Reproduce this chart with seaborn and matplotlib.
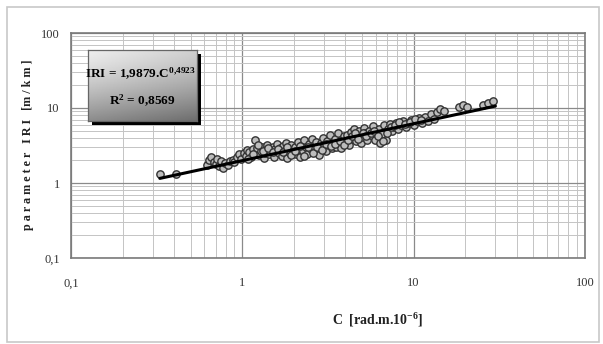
import numpy as np
import pandas as pd
import matplotlib
matplotlib.use("Agg")
import matplotlib.pyplot as plt
from matplotlib.patches import Rectangle
from matplotlib.ticker import FixedLocator, FixedFormatter, LogLocator, NullFormatter
import seaborn as sns

# ---- data ----
c_values = [0.33, 0.41,
    0.62, 0.64, 0.66, 0.68, 0.70, 0.71, 0.73, 0.75, 0.77, 0.79, 0.82, 0.85, 0.88, 0.90, 0.93, 0.96, 0.98,
    1.02, 1.05, 1.07, 1.10, 1.12, 1.15, 1.18, 1.20, 1.22, 1.25, 1.28, 1.30, 1.33, 1.35, 1.38, 1.40, 1.43,
    1.46, 1.50, 1.53, 1.56, 1.60, 1.63, 1.66, 1.70, 1.73, 1.76, 1.80, 1.83, 1.86, 1.90, 1.93, 1.97,
    2.02, 2.06, 2.10, 2.14, 2.18, 2.22, 2.26, 2.30, 2.35, 2.40, 2.45, 2.50, 2.55, 2.60, 2.65, 2.70,
    2.76, 2.82, 2.88, 2.94, 3.00, 3.06, 3.12, 3.18, 3.25, 3.32, 3.39, 3.46, 3.53, 3.60, 3.68, 3.76,
    3.84, 3.92,
    4.00, 4.10, 4.20, 4.30, 4.40, 4.50, 4.60, 4.70, 4.80, 4.90, 5.00, 5.10, 5.20, 5.35, 5.50, 5.65,
    5.80, 5.95, 6.10, 6.25, 6.40, 6.55, 6.70, 6.90, 7.10, 7.30, 7.50, 7.70, 7.90, 8.10, 8.40, 8.70,
    9.00, 9.30, 9.60, 10.0, 10.4, 10.8, 11.2,
    11.6, 12.1, 12.6, 13.1, 13.6, 14.3, 15.0, 18.5, 19.5, 20.5, 25.5, 27.0, 29.0,
    1.08, 1.16, 1.24, 1.32, 1.42, 1.52, 1.62, 1.72, 1.82, 1.92,
    2.04, 2.16, 2.28, 2.42, 2.58, 2.72, 2.90, 3.08, 3.28, 3.48, 3.70, 3.90,
    4.15, 4.35, 4.55, 4.75, 5.05, 5.30, 5.60, 5.85, 6.20, 6.60, 7.00, 7.40, 7.80, 8.25, 8.90,
    9.50, 10.2, 11.0]
iri_values = [1.32, 1.30,
    1.75, 2.05, 2.25, 1.90, 1.80, 2.10, 1.70, 1.95, 1.60, 1.85, 1.75, 1.95, 2.05, 1.90, 2.20, 2.40, 2.10,
    2.55, 2.30, 2.75, 2.60, 2.20, 2.85, 3.75, 2.50, 2.95, 2.35, 2.70, 3.05, 2.15, 2.55, 2.80, 3.20, 2.40,
    2.65, 3.00, 2.25, 2.85, 3.30, 2.50, 2.95, 2.30, 3.10, 2.70, 3.40, 2.15, 2.90, 2.55, 3.25, 2.75,
    3.05, 2.40, 3.50, 2.85, 2.20, 3.20, 2.65, 3.70, 3.00, 2.45, 3.35, 2.80, 3.90, 3.15, 2.60, 3.55,
    3.00, 2.35, 3.40, 4.00, 3.10, 2.70, 3.60, 3.25, 4.30, 2.90, 3.50, 3.85, 3.05, 4.60, 3.40, 2.95,
    3.75, 4.20,
    3.50, 4.40, 3.20, 4.80, 3.90, 5.20, 3.60, 4.30, 4.90, 3.40, 4.10, 5.40, 4.60, 3.80, 5.00, 4.40,
    5.70, 3.70, 4.80, 5.30, 3.40, 4.50, 5.90, 3.80, 5.20, 6.10, 4.90, 5.60, 6.40, 5.20, 6.00, 6.80,
    5.50, 6.30, 7.00, 6.00, 6.70, 7.40, 6.30,
    7.60, 6.80, 8.20, 7.20, 8.80, 9.80, 9.20, 10.2, 10.8, 10.3, 10.9, 11.6, 12.4,
    2.10, 2.45, 3.20, 2.65, 2.95, 2.60, 2.85, 2.60, 3.05, 2.35,
    2.70, 3.10, 2.30, 3.00, 2.55, 3.05, 2.75, 3.35, 3.10, 3.30, 3.60, 3.20,
    3.80, 4.20, 4.60, 3.90, 4.70, 4.20, 4.60, 5.00, 4.20, 3.60, 4.60, 5.50, 5.90, 6.50, 6.10,
    6.60, 7.20, 7.00]

fit_coef = 1.9879
fit_exp = 0.4923
fit_range = [0.33, 30.0]

x_ticks = [0.1, 1, 10, 100]
x_tick_labels = ["0,1", "1", "10", "100"]
y_ticks = [0.1, 1, 10, 100]
y_tick_labels = ["0,1", "1", "10", "100"]

df = pd.DataFrame({"C": c_values, "IRI": iri_values})
fit_c = np.geomspace(fit_range[0], fit_range[1], 50)
fit_df = pd.DataFrame({"C": fit_c, "IRI": fit_coef * fit_c ** fit_exp})

sns.set_theme(style="white")
plt.rcParams["font.family"] = ["Liberation Serif", "DejaVu Serif"]
plt.rcParams["mathtext.fontset"] = "custom"
plt.rcParams["mathtext.rm"] = "Liberation Serif"
plt.rcParams["mathtext.it"] = "Liberation Serif:italic"
plt.rcParams["mathtext.bf"] = "Liberation Serif:bold"
plt.rcParams["mathtext.default"] = "bf"

W, H = 603, 344
fig = plt.figure(figsize=(W / 100, H / 100), dpi=100)
fig.patch.set_facecolor("white")

# outer frame
fig.add_artist(Rectangle((7 / W, 1 - 342 / H), (599 - 7) / W, (342 - 7) / H,
                         transform=fig.transFigure, fill=False,
                         edgecolor="#c8c8c8", lw=1.2))

ax = fig.add_axes([71 / W, 1 - 258 / H, (585 - 71) / W, (258 - 33) / H])
ax.set_xscale("log")
ax.set_yscale("log")
ax.set_xlim(0.1, 100)
ax.set_ylim(0.1, 100)

ax.xaxis.set_major_locator(FixedLocator(x_ticks))
ax.xaxis.set_major_formatter(FixedFormatter(x_tick_labels))
ax.yaxis.set_major_locator(FixedLocator(y_ticks))
ax.yaxis.set_major_formatter(FixedFormatter(y_tick_labels))
ax.xaxis.set_minor_locator(LogLocator(base=10, subs=np.arange(2, 10)))
ax.yaxis.set_minor_locator(LogLocator(base=10, subs=np.arange(2, 10)))
ax.xaxis.set_minor_formatter(NullFormatter())
ax.yaxis.set_minor_formatter(NullFormatter())

ax.grid(which="major", color="#8a8a8a", lw=0.9)
ax.grid(which="minor", color="#c4c4c4", lw=0.7)
ax.set_axisbelow(True)
ax.tick_params(which="both", length=0)
ax.tick_params(axis="x", pad=14, labelsize=9, colors="#333333")
ax.tick_params(axis="y", pad=8, labelsize=9, colors="#333333")
for s in ax.spines.values():
    s.set_color("#7a7a7a")
    s.set_linewidth(1.2)

sns.scatterplot(data=df, x="C", y="IRI", ax=ax, s=28, color="#bdbdbd",
                edgecolor="#333333", linewidth=1.0, zorder=3, legend=False)
sns.lineplot(data=fit_df, x="C", y="IRI", ax=ax, color="black", lw=2.2,
             zorder=4, legend=False)
ax.set_xlabel("")
ax.set_ylabel("")

# axis labels
fig.text(28 / W, 1 - 145 / H, "p a r a m e t e r   I R I   [m / k m ]",
         rotation=90, ha="center", va="center", fontsize=8.7,
         fontweight="bold", color="#222222")
fig.text(378 / W, 1 - 320 / H, r"C  [rad.m.10$^{-6}$]", ha="center",
         va="center", fontsize=10, fontweight="bold", color="#222222")

# equation box with shadow and gradient
bx0, bx1, by0, by1 = 88, 197, 50, 121
fig.add_artist(Rectangle(((bx0 + 4) / W, 1 - (by1 + 4) / H), (bx1 - bx0) / W,
                         (by1 - by0) / H, transform=fig.transFigure,
                         facecolor="black", edgecolor="none", zorder=5))
bax = fig.add_axes([bx0 / W, 1 - by1 / H, (bx1 - bx0) / W, (by1 - by0) / H], zorder=6)
yy = np.linspace(0, 1, 100).reshape(-1, 1)
xx = np.linspace(0, 1, 100).reshape(1, -1)
shade = 0.93 - 0.38 * yy ** 1.3 - 0.12 * xx
bax.imshow(shade, cmap="gray", vmin=0, vmax=1, aspect="auto",
           extent=[0, 1, 1, 0])
bax.set_xlim(0, 1)
bax.set_ylim(1, 0)
bax.set_xticks([])
bax.set_yticks([])
for s in bax.spines.values():
    s.set_color("#666666")
    s.set_linewidth(0.9)
bax.text(0.48, 0.67, r"IRI = 1,9879.C$^{0{,}4923}$", ha="center", va="center",
         fontsize=9.5, fontweight="bold", color="black", transform=bax.transAxes)
bax.text(0.5, 0.29, r"R$^{2}$ = 0,8569", ha="center", va="center",
         fontsize=9.5, fontweight="bold", color="black", transform=bax.transAxes)

fig.savefig("out.png", dpi=100)
